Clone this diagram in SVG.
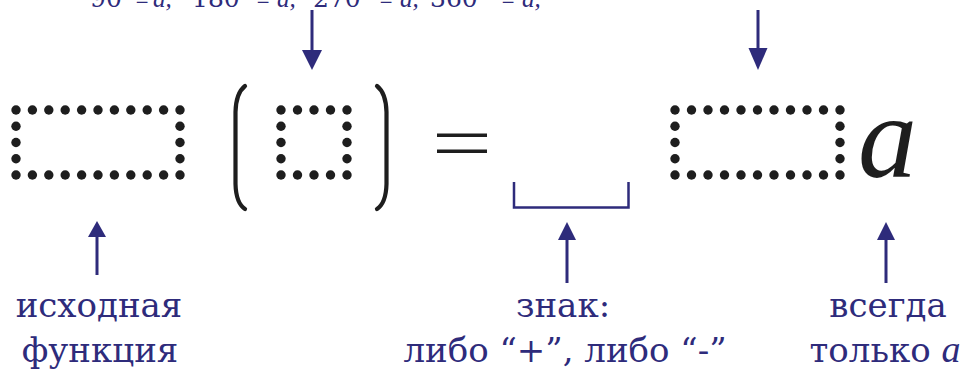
<svg xmlns="http://www.w3.org/2000/svg" width="967" height="381" viewBox="0 0 967 381">
<style>
.d{fill:#1e1e1e}
.lbl{font-family:"DejaVu Serif","Liberation Serif",serif;font-size:34px;fill:#2e2b7b;text-anchor:middle}
.top{font-family:"DejaVu Serif","Liberation Serif",serif;font-size:25px;fill:#2e2b7b}
.pm{font-size:17px}
.it{font-family:"Liberation Serif",serif;font-style:italic}
.sh{stroke:#2e2b7b;stroke-width:3;fill:none}
.hd{fill:#2e2b7b}
.par{stroke:#1e1e1e;stroke-width:4.2;fill:none;stroke-linecap:round}
</style>
<defs>
<circle id="c" r="4.7" class="d"/>
</defs>
<g id="top-label">
<text class="top" y="7"><tspan x="90">90°</tspan><tspan x="135" dy="-4" class="pm">±</tspan><tspan x="153" dy="4" class="it">a,</tspan><tspan x="192">180°</tspan><tspan x="256" dy="-4" class="pm">±</tspan><tspan x="277" dy="4" class="it">a,</tspan><tspan x="313">270°</tspan><tspan x="379" dy="-4" class="pm">±</tspan><tspan x="400" dy="4" class="it">a,</tspan><tspan x="430">360°</tspan><tspan x="501" dy="-4" class="pm">±</tspan><tspan x="522" dy="4" class="it">a,</tspan></text>
</g>
<g id="box-left">
<use href="#c" x="16" y="110"/><use href="#c" x="32.4" y="110"/><use href="#c" x="48.8" y="110"/><use href="#c" x="65.2" y="110"/><use href="#c" x="81.6" y="110"/><use href="#c" x="98" y="110"/><use href="#c" x="114.4" y="110"/><use href="#c" x="130.8" y="110"/><use href="#c" x="147.2" y="110"/><use href="#c" x="163.6" y="110"/><use href="#c" x="180" y="110"/>
<use href="#c" x="16" y="175"/><use href="#c" x="32.4" y="175"/><use href="#c" x="48.8" y="175"/><use href="#c" x="65.2" y="175"/><use href="#c" x="81.6" y="175"/><use href="#c" x="98" y="175"/><use href="#c" x="114.4" y="175"/><use href="#c" x="130.8" y="175"/><use href="#c" x="147.2" y="175"/><use href="#c" x="163.6" y="175"/><use href="#c" x="180" y="175"/>
<use href="#c" x="16" y="126.25"/><use href="#c" x="16" y="142.5"/><use href="#c" x="16" y="158.75"/>
<use href="#c" x="180" y="126.25"/><use href="#c" x="180" y="142.5"/><use href="#c" x="180" y="158.75"/>
</g>
<g id="paren-left"><path class="par" d="M245,86 Q236,93 235.5,112 L235.5,184 Q236,203 245,209"/></g>
<g id="box-middle">
<use href="#c" x="281" y="110"/><use href="#c" x="297.5" y="110"/><use href="#c" x="314" y="110"/><use href="#c" x="330.5" y="110"/><use href="#c" x="347" y="110"/>
<use href="#c" x="281" y="175"/><use href="#c" x="297.5" y="175"/><use href="#c" x="314" y="175"/><use href="#c" x="330.5" y="175"/><use href="#c" x="347" y="175"/>
<use href="#c" x="281" y="126.25"/><use href="#c" x="281" y="142.5"/><use href="#c" x="281" y="158.75"/>
<use href="#c" x="347" y="126.25"/><use href="#c" x="347" y="142.5"/><use href="#c" x="347" y="158.75"/>
</g>
<g id="paren-right"><path class="par" d="M377,86 Q386,93 386.5,112 L386.5,184 Q386,203 377,209"/></g>
<g id="equals">
<rect x="437" y="133.5" width="50" height="3.5" fill="#1e1e1e"/>
<rect x="437" y="149.5" width="50" height="3.5" fill="#1e1e1e"/>
</g>
<g id="sign-bracket"><path d="M514,182 V207.5 H628.5 V182" stroke="#2e2b7b" stroke-width="2.5" fill="none"/></g>
<g id="box-right">
<use href="#c" x="675" y="110"/><use href="#c" x="691.5" y="110"/><use href="#c" x="708" y="110"/><use href="#c" x="724.5" y="110"/><use href="#c" x="741" y="110"/><use href="#c" x="757.5" y="110"/><use href="#c" x="774" y="110"/><use href="#c" x="790.5" y="110"/><use href="#c" x="807" y="110"/><use href="#c" x="823.5" y="110"/><use href="#c" x="840" y="110"/>
<use href="#c" x="675" y="175"/><use href="#c" x="691.5" y="175"/><use href="#c" x="708" y="175"/><use href="#c" x="724.5" y="175"/><use href="#c" x="741" y="175"/><use href="#c" x="757.5" y="175"/><use href="#c" x="774" y="175"/><use href="#c" x="790.5" y="175"/><use href="#c" x="807" y="175"/><use href="#c" x="823.5" y="175"/><use href="#c" x="840" y="175"/>
<use href="#c" x="675" y="126.25"/><use href="#c" x="675" y="142.5"/><use href="#c" x="675" y="158.75"/>
<use href="#c" x="840" y="126.25"/><use href="#c" x="840" y="142.5"/><use href="#c" x="840" y="158.75"/>
</g>
<g id="letter-a"><text x="858" y="177" font-family="Liberation Serif, serif" font-style="italic" font-size="118" fill="#1e1e1e">a</text></g>
<g id="connectors">
<line class="sh" x1="312" y1="10" x2="312" y2="54"/><polygon class="hd" points="302,50 322,50 312,70"/>
<line class="sh" x1="758" y1="10" x2="758" y2="52"/><polygon class="hd" points="748.5,48 767.5,48 758,70"/>
<line class="sh" x1="97" y1="275" x2="97" y2="236"/><polygon class="hd" points="88,237 106,237 97,221"/>
<line class="sh" x1="567" y1="283" x2="567" y2="238"/><polygon class="hd" points="558,240 576,240 567,222"/>
<line class="sh" x1="886" y1="283" x2="886" y2="238"/><polygon class="hd" points="877,240 895,240 886,222"/>
</g>
<g id="label-left">
<text class="lbl" x="99" y="317">исходная</text>
<text class="lbl" x="100" y="362">функция</text>
</g>
<g id="label-middle">
<text class="lbl" x="563" y="317">знак:</text>
<text class="lbl" x="565" y="362">либо “+”, либо “-”</text>
</g>
<g id="label-right">
<text class="lbl" x="888" y="317">всегда</text>
<text class="lbl" x="885" y="362">только <tspan class="it" font-size="38">a</tspan></text>
</g>
</svg>
